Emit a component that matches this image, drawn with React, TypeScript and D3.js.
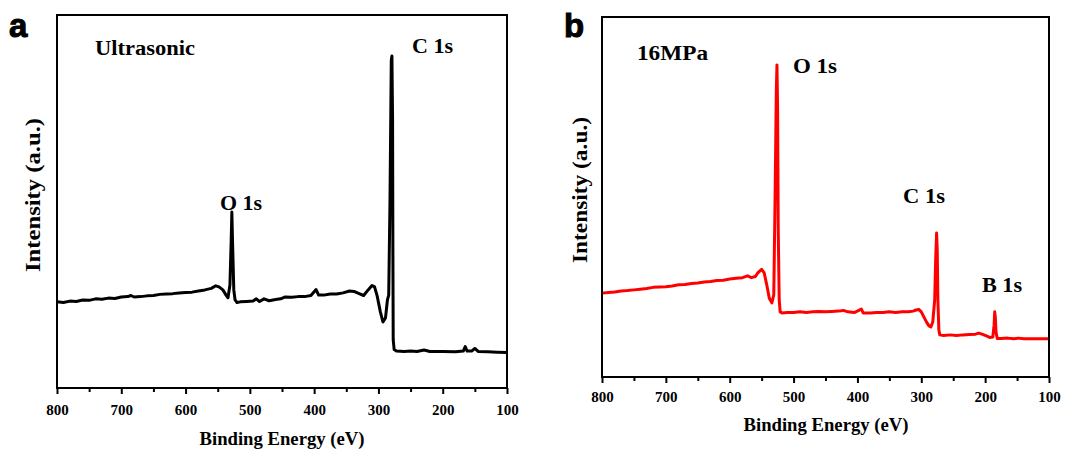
import React, { useEffect, useRef } from 'react';
import { select, scaleLinear, axisBottom, line, range } from 'd3';

// binding energy ticks (eV)
const majorTicks = [800, 700, 600, 500, 400, 300, 200, 100];
const minorTicks = [750, 650, 550, 450, 350, 250, 150];

// panel a - Ultrasonic
const energyA = [800, 790, 780, 770, 760, 750, 740, 730, 720, 710, 700, 690, 685, 680, 670, 660, 650, 640, 630, 620, 610, 600, 590, 580, 570, 560, 553, 548, 542, 537, 534, 531, 529, 528, 527, 525, 523, 520, 515, 505, 495, 490, 485, 478, 470, 460, 452, 445, 435, 425, 415, 405, 397, 393, 385, 375, 365, 355, 345, 338, 330, 323, 316, 310, 306, 302, 297, 293, 289, 286, 284, 282, 280, 279, 278, 277.5, 277, 275.5, 272, 260, 250, 240, 229, 220, 200, 180, 168, 165, 162, 155, 150, 145, 130, 115, 100];
const intensityA = [23.1, 22.9, 23.3, 23.2, 23.6, 23.5, 23.9, 23.8, 24.1, 24.0, 24.4, 24.5, 24.8, 24.4, 24.5, 24.7, 24.8, 25.1, 25.2, 25.3, 25.5, 25.6, 25.7, 26.0, 26.3, 26.7, 27.4, 27.1, 26.3, 24.9, 24.2, 27.6, 39.7, 47.2, 39.7, 26.3, 23.6, 22.9, 23.1, 23.2, 23.3, 23.9, 23.2, 23.9, 23.4, 23.7, 23.9, 24.4, 24.3, 24.5, 24.5, 24.8, 26.4, 24.9, 24.9, 25.2, 25.2, 25.5, 26.0, 25.9, 25.3, 24.8, 26.3, 27.5, 27.1, 24.7, 20.4, 17.7, 18.8, 23.6, 24.9, 50.4, 87.9, 89.0, 71.9, 37.0, 12.9, 10.3, 9.9, 9.8, 9.9, 9.8, 10.2, 9.8, 9.8, 9.7, 9.9, 11.1, 9.9, 9.9, 10.6, 9.8, 9.7, 9.6, 9.5];

// panel b - 16MPa
const energyB = [800, 790, 780, 770, 760, 750, 740, 730, 720, 710, 700, 690, 680, 670, 660, 650, 640, 630, 620, 610, 600, 590, 580, 572, 566, 560, 556, 550, 546, 542, 538, 534, 531, 529, 527, 526, 525, 524, 522.5, 521, 518, 510, 500, 490, 480, 470, 460, 450, 440, 430, 422, 415, 405, 397, 394, 391, 380, 370, 360, 350, 340, 330, 320, 313, 308, 304, 300, 296, 292, 288, 285, 282, 279, 277.5, 276, 275, 274, 272.5, 271, 265, 255, 245, 235, 225, 215, 210, 205, 198, 193, 188, 186, 185, 184, 183, 181, 175, 165, 155, 148, 140, 130, 120, 110, 100];
const intensityB = [23.3, 23.5, 23.6, 23.9, 24.0, 24.2, 24.4, 24.6, 24.9, 25.0, 25.1, 25.3, 25.6, 25.7, 26.0, 26.1, 26.4, 26.5, 26.8, 26.9, 27.2, 27.4, 27.6, 28.1, 27.6, 27.9, 28.9, 29.9, 28.9, 25.6, 21.9, 20.6, 22.8, 49.2, 79.7, 86.7, 74.2, 40.8, 21.4, 18.1, 17.8, 17.9, 17.9, 18.1, 17.9, 18.1, 18.2, 18.1, 18.2, 18.3, 18.5, 18.1, 17.9, 18.6, 18.9, 17.8, 17.8, 17.9, 17.9, 18.1, 17.9, 18.1, 18.1, 18.3, 18.6, 18.8, 18.1, 16.7, 15.3, 14.2, 13.9, 15.3, 21.4, 32.5, 40.0, 35.3, 21.4, 13.1, 11.7, 11.5, 11.7, 11.5, 11.7, 11.8, 11.9, 12.2, 11.9, 11.4, 11.0, 11.1, 14.4, 18.1, 16.4, 12.5, 10.7, 10.7, 10.8, 10.6, 10.8, 10.6, 10.6, 10.6, 10.6, 10.6];

type Label = { text: string; x: number; y: number; w: number };

type PanelProps = {
  energy: number[];
  intensity: number[];
  color: string;
  box: { left: number; right: number; top: number; bottom: number };
  letter: { text: string; x: number; y: number };
  labels: Label[];
  tickY: number;
  xTitle: { x: number; y: number };
  yTitle: { x: number; y: number; w: number };
};

const serif = '"Liberation Serif", "Times New Roman", serif';

function Panel(props: PanelProps) {
  const gRef = useRef<SVGGElement>(null);

  useEffect(() => {
    const { energy, intensity, color, box, letter, labels, tickY, xTitle, yTitle } = props;
    const g = select(gRef.current);
    g.selectAll('*').remove();

    const x = scaleLinear().domain([800, 100]).range([box.left, box.right]);
    const y = scaleLinear().domain([0, 100]).range([box.bottom, box.top]);

    // minor ticks
    g.append('g')
      .attr('transform', `translate(0,${box.bottom})`)
      .call(axisBottom(x).tickValues(minorTicks).tickSize(4).tickFormat(() => ''))
      .call((s) => s.select('.domain').remove())
      .selectAll('line').attr('stroke', '#000').attr('stroke-width', 2);

    // major ticks
    const ax = g.append('g')
      .attr('transform', `translate(0,${box.bottom})`)
      .call(axisBottom(x).tickValues(majorTicks).tickSize(6).tickFormat((d) => String(d)));
    ax.select('.domain').remove();
    ax.selectAll('line').attr('stroke', '#000').attr('stroke-width', 2);
    ax.selectAll('text')
      .attr('y', tickY)
      .attr('dy', null)
      .attr('fill', '#000')
      .style('font-family', serif)
      .style('font-weight', 'bold')
      .style('font-size', '15px');

    // spectrum
    const pts = range(energy.length).map((i) => [energy[i], intensity[i]] as [number, number]);
    g.append('path')
      .datum(pts)
      .attr('fill', 'none')
      .attr('stroke', color)
      .attr('stroke-width', 3)
      .attr('stroke-linejoin', 'round')
      .attr('d', line<[number, number]>().x((d) => x(d[0])).y((d) => y(d[1])));

    // frame
    g.append('rect')
      .attr('x', box.left)
      .attr('y', box.top)
      .attr('width', box.right - box.left)
      .attr('height', box.bottom - box.top)
      .attr('fill', 'none')
      .attr('stroke', '#000')
      .attr('stroke-width', 2);

    g.append('text')
      .attr('x', letter.x)
      .attr('y', letter.y)
      .text(letter.text)
      .style('font-family', '"Liberation Sans", Arial, sans-serif')
      .style('font-weight', 'bold')
      .style('font-size', '33px')
      .attr('stroke', '#000')
      .attr('stroke-width', 1);

    labels.forEach((l) => {
      g.append('text')
        .attr('x', l.x)
        .attr('y', l.y)
        .attr('textLength', l.w)
        .attr('lengthAdjust', 'spacingAndGlyphs')
        .text(l.text)
        .style('font-family', serif)
        .style('font-weight', 'bold')
        .style('font-size', '20px');
    });

    g.append('text')
      .attr('x', xTitle.x)
      .attr('y', xTitle.y)
      .attr('text-anchor', 'middle')
      .attr('textLength', 165)
      .attr('lengthAdjust', 'spacingAndGlyphs')
      .text('Binding Energy (eV)')
      .style('font-family', serif)
      .style('font-weight', 'bold')
      .style('font-size', '18px');

    g.append('text')
      .attr('transform', `translate(${yTitle.x},${yTitle.y}) rotate(-90)`)
      .attr('text-anchor', 'middle')
      .attr('textLength', yTitle.w)
      .attr('lengthAdjust', 'spacingAndGlyphs')
      .text('Intensity (a.u.)')
      .style('font-family', serif)
      .style('font-weight', 'bold')
      .style('font-size', '22px');
  }, [props]);

  return <g ref={gRef}></g>;
}

export default function App() {
  return (
    <svg width={1067} height={452} style={{ position: 'absolute', left: 0, top: 0, background: '#fff' }}>
      <Panel
        energy={energyA}
        intensity={intensityA}
        color="#000"
        box={{ left: 57, right: 507, top: 15, bottom: 388 }}
        letter={{ text: 'a', x: 9, y: 37 }}
        labels={[
          { text: 'Ultrasonic', x: 95, y: 55, w: 100 },
          { text: 'C 1s', x: 412, y: 53, w: 41 },
          { text: 'O 1s', x: 220, y: 210, w: 42 },
        ]}
        tickY={27}
        xTitle={{ x: 282, y: 445 }}
        yTitle={{ x: 40, y: 195, w: 154 }}
      />
      <Panel
        energy={energyB}
        intensity={intensityB}
        color="#ff0000"
        box={{ left: 602, right: 1049, top: 17, bottom: 377 }}
        letter={{ text: 'b', x: 564, y: 37 }}
        labels={[
          { text: '16MPa', x: 637, y: 60, w: 71 },
          { text: 'O 1s', x: 793, y: 73, w: 44 },
          { text: 'C 1s', x: 903, y: 203, w: 42 },
          { text: 'B 1s', x: 982, y: 292, w: 40 },
        ]}
        tickY={25}
        xTitle={{ x: 826, y: 431 }}
        yTitle={{ x: 587, y: 190, w: 146 }}
      />
    </svg>
  );
}
